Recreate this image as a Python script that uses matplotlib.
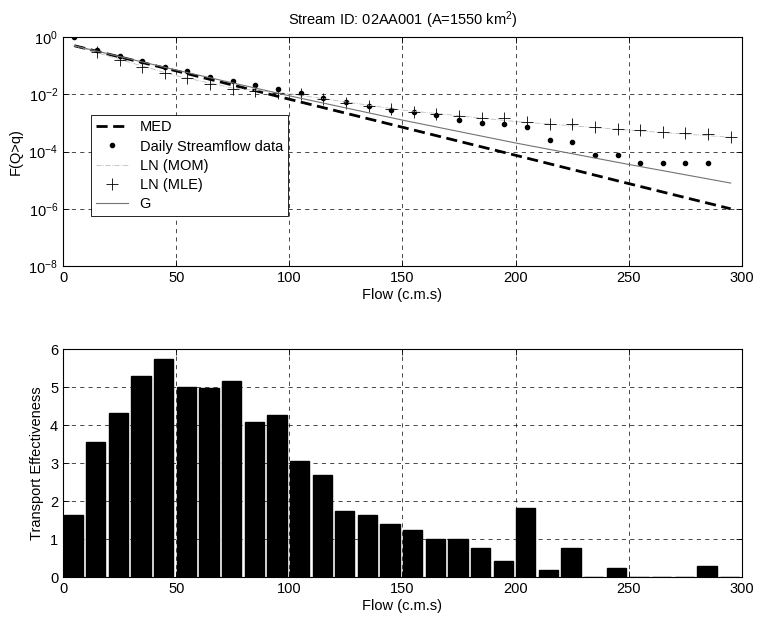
import numpy as np
import matplotlib
matplotlib.use('Agg')
from matplotlib import pyplot as plt

plt.rcParams['font.family'] = ['Liberation Sans', 'DejaVu Sans']
plt.rcParams['mathtext.fontset'] = 'custom'
plt.rcParams['mathtext.rm'] = 'Liberation Sans'
plt.rcParams['mathtext.it'] = 'Liberation Sans:italic'
plt.rcParams['font.size'] = 10.5

TITLE = 'Stream ID: 02AA001 (A=1550 km$^2$)'

# exceedance probability, read as log10 values
med_x = [5, 50, 100, 150, 200, 250, 295]
med_log = [-0.30, -1.18, -2.17, -3.15, -4.13, -5.12, -6.00]

data_x = [5, 15, 25, 35, 45, 55, 65, 75, 85, 95, 105, 115, 125, 135, 145,
          155, 165, 175, 185, 195, 205, 215, 225, 235, 245, 255, 265, 275, 285]
data_log = [0.0, -0.45, -0.66, -0.84, -1.05, -1.19, -1.39, -1.54, -1.68, -1.81,
            -1.97, -2.14, -2.28, -2.41, -2.53, -2.61, -2.73, -2.88, -3.00, -3.05,
            -3.14, -3.60, -3.66, -4.13, -4.13, -4.39, -4.39, -4.39, -4.39]

mle_x = [15, 25, 35, 45, 55, 65, 75, 85, 95, 105, 115, 125, 135, 145, 155,
         165, 175, 185, 195, 205, 215, 225, 235, 245, 255, 265, 275, 285, 295]
mle_log = [-0.52, -0.80, -1.04, -1.27, -1.43, -1.64, -1.80, -1.88, -1.96, -2.00,
           -2.17, -2.30, -2.42, -2.50, -2.60, -2.67, -2.76, -2.81, -2.82, -2.96,
           -3.02, -3.04, -3.13, -3.22, -3.23, -3.31, -3.34, -3.39, -3.49]

mom_x = [5, 25, 50, 75, 100, 150, 200, 250, 295]
mom_log = [-0.30, -0.78, -1.35, -1.78, -1.98, -2.55, -2.95, -3.25, -3.50]

g_x = [5, 50, 100, 150, 200, 250, 295]
g_log = [-0.30, -1.15, -2.05, -2.90, -3.70, -4.45, -5.10]

# transport effectiveness per 10 c.m.s class
bar_x = [4.5 + 10 * i for i in range(30)]
bar_h = [1.63, 3.54, 4.31, 5.28, 5.73, 5.01, 4.97, 5.15, 4.09, 4.27,
         3.05, 2.68, 1.74, 1.64, 1.39, 1.23, 1.01, 0.99, 0.77, 0.41,
         1.82, 0.19, 0.76, 0.0, 0.24, 0.0, 0.01, 0.0, 0.30, 0.0]

grid_kw = dict(color='black', linestyle=(0, (6, 6)), linewidth=0.5)

fig = plt.figure(figsize=(7.6, 6.22), dpi=100)
ax1 = fig.add_axes([0.0829, 0.5723, 0.8934, 0.368])
ax2 = fig.add_axes([0.0829, 0.0723, 0.8934, 0.3666])

ax1.semilogy(med_x, 10.0 ** np.array(med_log), color='black',
             linestyle=(0, (4, 2)), linewidth=2, label='MED')
ax1.semilogy(data_x, 10.0 ** np.array(data_log), linestyle='none',
             marker='o', markersize=3, color='black',
             label='Daily Streamflow data')
ax1.semilogy(mom_x, 10.0 ** np.array(mom_log), color='0.75',
             linestyle='-.', linewidth=0.6, label='LN (MOM)')
ax1.semilogy(mle_x, 10.0 ** np.array(mle_log), linestyle='none',
             marker='+', markersize=8, markeredgewidth=0.6, color='black',
             label='LN (MLE)')
ax1.semilogy(g_x, 10.0 ** np.array(g_log), color='0.45', linewidth=0.8,
             label='G')

ax1.set_xlim(0, 300)
ax1.set_ylim(1e-8, 1)
ax1.set_yticks([1e-8, 1e-6, 1e-4, 1e-2, 1])
ax1.minorticks_off()
ax1.set_xticks(range(0, 301, 50))
ax1.grid(True, **grid_kw)
ax1.set_title(TITLE, fontsize=10.5, pad=9)
ax1.set_xlabel('Flow (c.m.s)', labelpad=2)
ax1.set_ylabel('F(Q>q)')

leg = ax1.legend(loc='upper left', bbox_to_anchor=(0.03, 0.69),
                 fancybox=False, framealpha=1, edgecolor='black',
                 handlelength=2.2, borderpad=0.35, labelspacing=0.35,
                 fontsize=10.5)
leg.get_frame().set_linewidth(0.6)

ax2.bar(bar_x, bar_h, width=8.5, color='black', edgecolor='black')
ax2.set_xlim(0, 300)
ax2.set_ylim(0, 6)
ax2.set_xticks(range(0, 301, 50))
ax2.set_yticks(range(0, 7))
ax2.grid(True, **grid_kw)
ax2.set_axisbelow(True)
ax2.set_xlabel('Flow (c.m.s)', labelpad=2)
ax2.set_ylabel('Transport Effectiveness')

for ax in (ax1, ax2):
    ax.tick_params(direction='in', length=4, width=0.6, top=True, right=True)
    for sp in ax.spines.values():
        sp.set_linewidth(0.8)

plt.savefig('out.png', dpi=100)
